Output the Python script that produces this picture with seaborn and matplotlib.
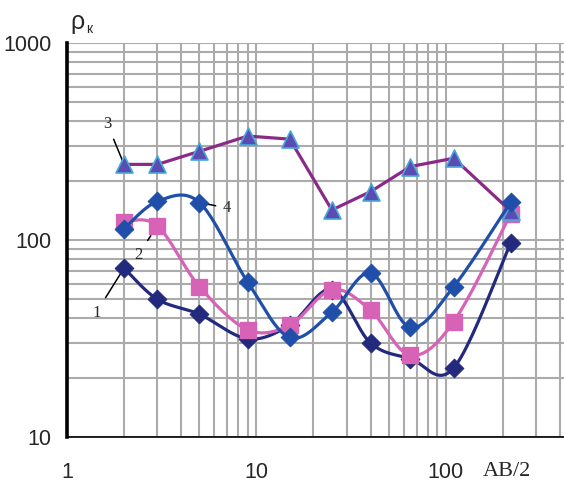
import numpy as np
import pandas as pd
import seaborn as sns
import matplotlib.pyplot as plt
from matplotlib.ticker import LogLocator, NullFormatter, FixedLocator, FixedFormatter

# AB/2 spacings and apparent resistivity curves
ab2 = [2, 3, 5, 9, 15, 25, 40, 65, 110, 220]
rho_1 = [72, 50, 42, 31.5, 37, 56, 30, 25, 22.4, 97]
rho_2 = [124, 118, 58, 35, 37, 56, 44, 26, 38.5, 136]
rho_3 = [242, 242, 282, 337, 325, 142, 176, 236, 260, 140]
rho_4 = [114, 157, 155, 61, 32, 43, 68, 36, 58, 156]

x_ticks = [1, 10, 100]
y_ticks = [10, 100, 1000]


def smooth(x, y, n=24):
    # Excel-like smoothed line (Catmull-Rom / Bezier in log-log space)
    px = np.log10(x)
    py = np.log10(y)
    P = np.column_stack([px, py])
    P = np.vstack([P[0], P, P[-1]])
    out = []
    t = np.linspace(0, 1, n)[:, None]
    for i in range(1, len(P) - 2):
        p0, p1, p2, p3 = P[i - 1], P[i], P[i + 1], P[i + 2]
        b1 = p1 + (p2 - p0) / 6
        b2 = p2 - (p3 - p1) / 6
        seg = ((1 - t) ** 3) * p1 + 3 * ((1 - t) ** 2) * t * b1 + 3 * (1 - t) * t ** 2 * b2 + t ** 3 * p2
        out.append(seg)
    out = np.vstack(out)
    return 10 ** out[:, 0], 10 ** out[:, 1]


sns.set_style('white')
plt.rcParams['font.family'] = ['Liberation Sans', 'DejaVu Sans']

fig = plt.figure(figsize=(5.64, 4.84), dpi=100)
ax = fig.add_axes([67 / 564, 1 - 437 / 484, (564 - 67) / 564, (437 - 43) / 484])
ax.set_xscale('log')
ax.set_yscale('log')
ax.set_xlim(1, 420)
ax.set_ylim(10, 1000)

c1 = '#232a7e'
c2 = '#d763b6'
c3 = '#8a2a88'
c4 = '#1f4fa8'

# series 1
sx, sy = smooth(ab2, rho_1)
sns.lineplot(x=sx, y=sy, sort=False, estimator=None, color=c1, lw=2.3, ax=ax, zorder=3)
sns.scatterplot(x=ab2, y=rho_1, marker='D', s=90, color=c1, edgecolor=c1, ax=ax, zorder=4)

# series 2
sx, sy = smooth(ab2, rho_2)
sns.lineplot(x=sx, y=sy, sort=False, estimator=None, color=c2, lw=2.3, ax=ax, zorder=5)
sns.scatterplot(x=ab2, y=rho_2, marker='s', s=145, color=c2, edgecolor=c2, ax=ax, zorder=6)

# series 3 (straight)
sns.lineplot(x=ab2, y=rho_3, color=c3, lw=2.3, ax=ax, zorder=7)
sns.scatterplot(x=ab2, y=rho_3, marker='^', s=150, color='#5a4cb2', edgecolor='#45a8d8',
                linewidth=1.2, ax=ax, zorder=8)

# series 4
sx, sy = smooth(ab2, rho_4)
sns.lineplot(x=sx, y=sy, sort=False, estimator=None, color=c4, lw=2.3, ax=ax, zorder=9)
sns.scatterplot(x=ab2, y=rho_4, marker='D', s=90, color=c4, edgecolor=c4, ax=ax, zorder=10)

# grid
ax.xaxis.set_major_locator(FixedLocator(x_ticks))
ax.xaxis.set_major_formatter(FixedFormatter([str(v) for v in x_ticks]))
ax.xaxis.set_minor_locator(LogLocator(base=10, subs=np.arange(2, 10)))
ax.xaxis.set_minor_formatter(NullFormatter())
ax.yaxis.set_major_locator(FixedLocator(y_ticks))
ax.yaxis.set_major_formatter(FixedFormatter([str(v) for v in y_ticks]))
ax.yaxis.set_minor_locator(LogLocator(base=10, subs=np.arange(2, 10)))
ax.yaxis.set_minor_formatter(NullFormatter())
ax.grid(which='both', color='#ababab', lw=1.5)
ax.set_axisbelow(True)

for s in ['top', 'right']:
    ax.spines[s].set_visible(False)
ax.spines['left'].set_linewidth(2.6)
ax.spines['left'].set_color('black')
ax.spines['bottom'].set_linewidth(1.2)
ax.spines['bottom'].set_color('black')

ax.tick_params(axis='y', which='major', length=6, width=2, pad=5, labelsize=15.5,
               labelcolor='#262626', color='black')
ax.tick_params(axis='x', which='major', length=5, width=1.2, pad=13, labelsize=15.5,
               labelcolor='#262626', color='black')
ax.tick_params(which='minor', length=0)
ax.set_xlabel('')
ax.set_ylabel('')

# curve numbers with leader lines
ann = dict(fontsize=12, family='Liberation Serif', ha='center', va='center',
           textcoords='offset points')
ax.annotate('1', xy=(ab2[0], rho_1[0]), xytext=(-20, -32),
            arrowprops=dict(arrowstyle='-', color='black', lw=1.1, shrinkA=3, shrinkB=2), **ann)
ax.annotate('2', xy=(ab2[1], rho_2[1]), xytext=(-14, -21),
            arrowprops=dict(arrowstyle='-', color='black', lw=1.1, ls='--', shrinkA=3, shrinkB=4), **ann)
ax.annotate('3', xy=(ab2[0], rho_3[0]), xytext=(-12, 29),
            arrowprops=dict(arrowstyle='-', color='black', lw=1.1, shrinkA=3, shrinkB=2), **ann)
ax.annotate('4', xy=(ab2[2], rho_4[2]), xytext=(20, -4),
            arrowprops=dict(arrowstyle='-', color='black', lw=1.1, shrinkA=3, shrinkB=3), **ann)

# axis titles
fig.text(77 / 564, 1 - 22 / 484, 'ρ', fontsize=18, ha='center', va='center', color='#262626')
fig.text(89 / 564, 1 - 29 / 484, 'к', fontsize=10, ha='center', va='center', color='#262626')
fig.text(507 / 564, 1 - 471 / 484, 'AB/2', fontsize=16, family='Liberation Serif',
         ha='center', va='center', color='#262626')

fig.savefig('out.png', dpi=100)
